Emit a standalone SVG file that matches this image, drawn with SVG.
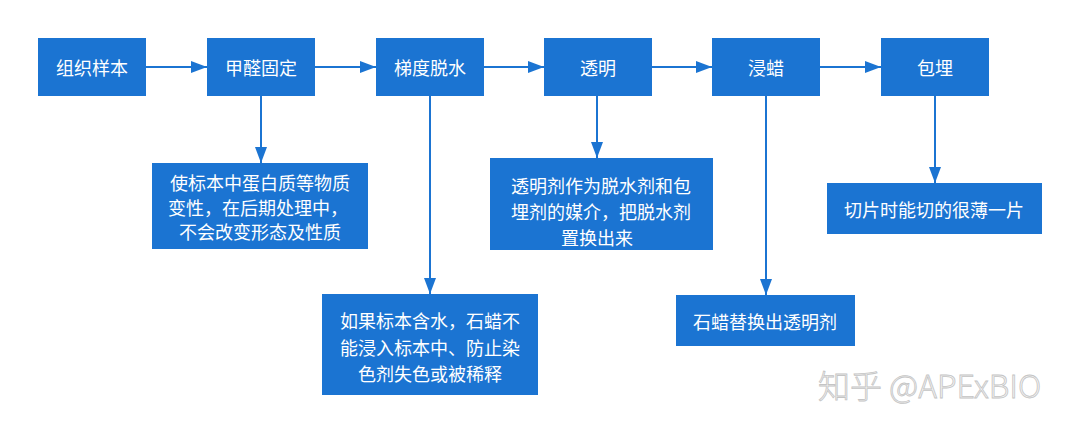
<svg xmlns="http://www.w3.org/2000/svg" width="1080" height="433" viewBox="0 0 1080 433">
<style>
.box{fill:#1b74d2}
.t{fill:#fff;font-family:"Noto Sans CJK SC","Noto Sans",sans-serif;font-size:18px;text-anchor:middle;dominant-baseline:central}
.d{fill:#fff;font-family:"Noto Sans CJK SC","Noto Sans",sans-serif;font-size:18px;text-anchor:middle;dominant-baseline:central}
.c{stroke:#1b74d2;stroke-width:2;fill:none;marker-end:url(#a)}
.wm{fill:#f4f4f4;stroke:#c4c4c4;stroke-width:0.8;font-family:"Noto Sans CJK SC","Noto Sans",sans-serif;font-size:32px;font-weight:300}
</style>
<defs>
<marker id="a" viewBox="0 0 10 10" refX="10" refY="5" markerWidth="16" markerHeight="12" markerUnits="userSpaceOnUse" orient="auto" preserveAspectRatio="none">
<path d="M0,0 L10,5 L0,10 Z" fill="#1b74d2"/>
</marker>
</defs>
<rect width="1080" height="433" fill="#fff"/>
<g id="connectors">
<line class="c" x1="146" y1="67" x2="207" y2="67"/>
<line class="c" x1="315" y1="67" x2="376" y2="67"/>
<line class="c" x1="484" y1="67" x2="544" y2="67"/>
<line class="c" x1="652" y1="67" x2="712" y2="67"/>
<line class="c" x1="820" y1="67" x2="881" y2="67"/>
<line class="c" x1="261" y1="96" x2="261" y2="163"/>
<line class="c" x1="430" y1="96" x2="430" y2="294"/>
<line class="c" x1="597" y1="96" x2="597" y2="158"/>
<line class="c" x1="766" y1="96" x2="766" y2="295"/>
<line class="c" x1="935" y1="96" x2="935" y2="183"/>
</g>
<g id="n1"><rect class="box" x="38" y="38" width="108" height="58"/><text class="t" x="92" y="67">组织样本</text></g>
<g id="n2"><rect class="box" x="207" y="38" width="108" height="58"/><text class="t" x="261" y="67">甲醛固定</text></g>
<g id="n3"><rect class="box" x="376" y="38" width="108" height="58"/><text class="t" x="430" y="67">梯度脱水</text></g>
<g id="n4"><rect class="box" x="544" y="38" width="108" height="58"/><text class="t" x="598" y="67">透明</text></g>
<g id="n5"><rect class="box" x="712" y="38" width="108" height="58"/><text class="t" x="766" y="67">浸蜡</text></g>
<g id="n6"><rect class="box" x="881" y="38" width="108" height="58"/><text class="t" x="935" y="67">包埋</text></g>
<g id="d1"><rect class="box" x="152" y="163" width="216" height="86"/>
<text class="d" x="260" y="182">使标本中蛋白质等物质</text>
<text class="d" x="258" y="207">变性，在后期处理中，</text>
<text class="d" x="260" y="231">不会改变形态及性质</text></g>
<g id="d2"><rect class="box" x="322" y="294" width="216" height="101"/>
<text class="d" x="430" y="320">如果标本含水，石蜡不</text>
<text class="d" x="430" y="347">能浸入标本中、防止染</text>
<text class="d" x="430" y="373">色剂失色或被稀释</text></g>
<g id="d3"><rect class="box" x="490" y="158" width="223" height="92"/>
<text class="d" x="601" y="185">透明剂作为脱水剂和包</text>
<text class="d" x="601" y="211">埋剂的媒介，把脱水剂</text>
<text class="d" x="597" y="237">置换出来</text></g>
<g id="d4"><rect class="box" x="676" y="295" width="179" height="51"/>
<text class="d" x="765" y="321">石蜡替换出透明剂</text></g>
<g id="d5"><rect class="box" x="827" y="183" width="215" height="51"/>
<text class="d" x="934" y="209">切片时能切的很薄一片</text></g>
<text class="wm" x="818" y="398">知乎 @APExBIO</text>
</svg>
